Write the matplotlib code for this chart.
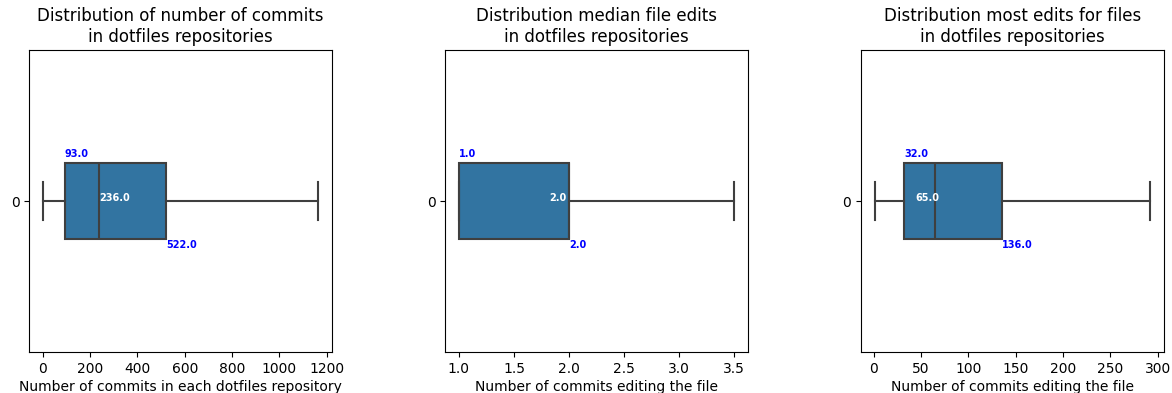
import numpy as np
import matplotlib
matplotlib.use("Agg")
import matplotlib.pyplot as plt

# box statistics (whisker low, Q1, median, Q3, whisker high)
titles = ["Distribution of number of commits\nin dotfiles repositories",
          "Distribution median file edits\nin dotfiles repositories",
          "Distribution most edits for files\nin dotfiles repositories"]
xlabels = ["Number of commits in each dotfiles repository",
           "Number of commits editing the file",
           "Number of commits editing the file"]
whislo = [1, 1.0, 1]
q1 = [93.0, 1.0, 32.0]
med = [236.0, 2.0, 65.0]
q3 = [522.0, 2.0, 136.0]
whishi = [1165, 3.5, 292]

# median label nudges (points) so the white text sits where the original put it
med_offset = [0.7, -14.4, -14.4]

box_color = "#3274a1"
line_color = "#3f3f3f"
box_w = 0.25

fig, axes = plt.subplots(1, 3, figsize=(11.72, 3.93), dpi=100)
fig.subplots_adjust(left=0.025, right=0.993, bottom=0.104, top=0.873, wspace=0.373)

for i, ax in enumerate(axes):
  stats = [dict(whislo=whislo[i], q1=q1[i], med=med[i], q3=q3[i], whishi=whishi[i], fliers=[], label="0")]
  line_kw = dict(color=line_color, linewidth=1.5)
  ax.bxp(stats, positions=[0], widths=box_w, vert=False, patch_artist=True,
         showfliers=False,
         boxprops=dict(facecolor=box_color, edgecolor=line_color, linewidth=1.5),
         medianprops=line_kw, whiskerprops=line_kw, capprops=line_kw)
  ax.set_ylim(-0.5, 0.5)
  ax.set_yticks([0])
  ax.set_yticklabels(["0"])
  ax.set_title(titles[i], fontsize=12)
  ax.set_xlabel(xlabels[i], fontsize=10, labelpad=3)
  ax.margins(x=0.05)

  # quartile annotations
  ax.annotate("%.1f" % q1[i], (q1[i], box_w / 2), xytext=(0, 3), textcoords="offset points",
              ha="left", va="bottom", color="blue", fontsize=7, fontweight="bold")
  ax.annotate("%.1f" % q3[i], (q3[i], -box_w / 2), xytext=(0, -1), textcoords="offset points",
              ha="left", va="top", color="blue", fontsize=7, fontweight="bold")
  ax.annotate("%.1f" % med[i], (med[i], 0), xytext=(med_offset[i], 2), textcoords="offset points",
              ha="left", va="center", color="white", fontsize=7, fontweight="bold")

axes[1].set_xticks([1.0, 1.5, 2.0, 2.5, 3.0, 3.5])

plt.savefig("out.png", dpi=100)
